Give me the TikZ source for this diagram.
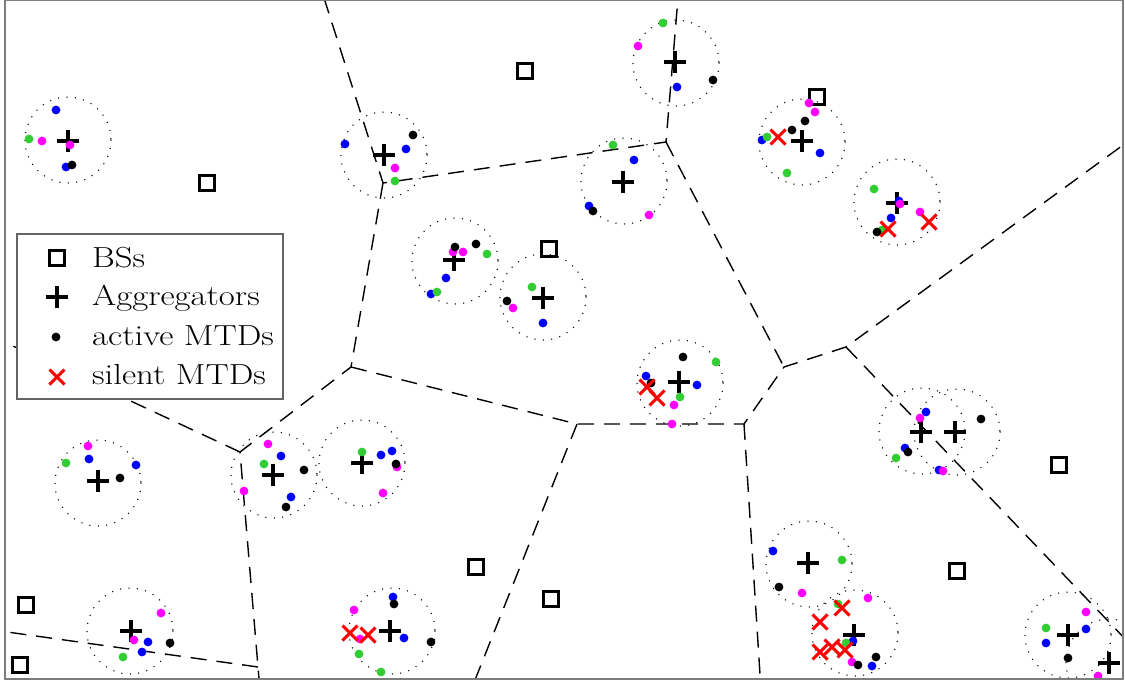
\documentclass[tikz,border=0pt]{standalone}
\usepackage{graphicx}
\usetikzlibrary{
	calc
}
\definecolor{mtdgreen}{RGB}{50,205,50}
\definecolor{mtdmagenta}{RGB}{255,0,255}
\definecolor{mtdblue}{RGB}{0,0,255}
\definecolor{framegray}{RGB}{125,125,125}
\tikzset{
	bsmark/.style={
		draw=black,
		line width=2.8pt,
		rectangle,
		minimum size=15.5pt,
		inner sep=0pt
	},
	aggmark/.style={
		draw=black,
		line width=3.2pt
	},
	silentmark/.style={
		draw=red,
		line width=3pt
	},
	voronoi/.style={
		black,
		line width=1.4pt,
		dash pattern=on 16pt off 10pt
	},
	aggrange/.style={
		black,
		line width=1.5pt,
		line cap=round,
		dash pattern=on 0pt off 8.4pt
	},
	legtext/.style={
		anchor=base west,
		inner sep=0pt,
		font=\fontsize{29}{31}\selectfont
	}
}
\newcommand\legstretch[1]{\scalebox{1.2}[1]{#1}}

\begin{document}
\begin{tikzpicture}[x=1pt,y=-1pt]
	\useasboundingbox (0,0) rectangle (1125,680);
	\begin{scope}
		\clip (5,0) rectangle (1123,679);
		%%%%%%%% VORONOI CELLS
		\coordinate (v1) at (383,183);
		\coordinate (v2) at (666,142);
		\coordinate (v3) at (351,367);
		\coordinate (v4) at (240,452);
		\coordinate (v5) at (577,424);
		\coordinate (v6) at (744,424);
		\coordinate (v7) at (784,367);
		\coordinate (v8) at (846,347);
		\coordinate (v9) at (258,667);
		\draw[voronoi] (324,-2) -- (v1) -- (v2) -- (678,-2);
		\draw[voronoi] (v1) -- (v3) -- (v4) -- (v9) -- (260,690);
		\draw[voronoi] (v3) -- (v5) -- (v6) -- (v7) -- (v8) -- (1130,140);
		\draw[voronoi] (v2) -- (v7);
		\draw[voronoi] (v4) -- (0,340);
		\draw[voronoi] (v9) -- (0,631);
		\draw[voronoi] (v5) -- (471,690);
		\draw[voronoi] (v6) -- (761,690);
		\draw[voronoi] (v8) -- (1130,644);
		%%%%%%%% AGGREGATOR RANGES
		\foreach \x/\y in {68/140,384/155,676/63,624/181,802/142,897/202,455/261,
			543/297,680/383,922/431,957/432,98/483,274/475,362/463,392/631,130/631,
			809/564,855/633,1068/635,1109/662}
			\draw[aggrange] (\x,\y) circle (43);
		%%%%%%%% BSs
		\foreach \x/\y in {207/183,525/71,817/97,549/249,1059/465,957/571,
			476/567,551/599,26/605,20/665}
			\node[bsmark] at (\x,\y) {};
		%%%%%%%% AGGREGATORS
		\foreach \x/\y in {68/141,384/155,675/62,623/182,802/141,897/203,454/260,
			543/298,679/382,921/432,955/432,98/481,273/475,362/463,390/631,131/631,
			808/563,854/635,1068/635,1109/663}
			\draw[aggmark] (\x,\y) +(-11,0) -- +(11,0) +(0,-11) -- +(0,11);
		%%%%%%%% ACTIVE MTDs
		\foreach \x/\y in {56/110,66/167,345/144,406/149,677/87,634/160,589/206,
			762/140,820/153,899/201,891/218,446/278,431/294,543/323,646/376,697/385,
			926/412,905/448,939/470,89/459,136/465,281/456,291/497,381/455,392/451,
			393/597,404/638,148/642,142/652,773/551,853/641,872/666,1086/629,1046/643}
			\fill[mtdblue] (\x,\y) circle (4.4);
		\foreach \x/\y in {29/139,395/181,663/23,613/145,767/137,787/173,874/189,
			882/230,487/254,437/292,532/287,716/362,680/397,896/458,66/463,264/464,
			362/452,359/654,381/672,123/657,842/560,838/604,846/643,1046/628}
			\fill[mtdgreen] (\x,\y) circle (4.4);
		\foreach \x/\y in {42/141,70/145,395/168,638/46,649/215,809/103,815/112,
			900/204,920/212,453/252,463/252,513/308,674/405,672/424,920/418,943/471,
			88/446,268/444,244/491,397/467,383/493,354/610,360/639,161/613,134/640,
			802/593,868/598,852/662,1086/612,1098/676}
			\fill[mtdmagenta] (\x,\y) circle (4.4);
		\foreach \x/\y in {72/165,413/135,713/80,593/211,805/121,792/130,877/232,
			455/247,476/244,507/301,683/357,651/383,981/419,908/452,120/478,304/470,
			286/507,396/464,394/604,431/642,170/643,779/587,858/665,876/657,1068/658}
			\fill[black] (\x,\y) circle (4.4);
		%%%%%%%% SILENT MTDs
		\foreach \x/\y in {778/137,929/222,888/229,647/387,657/398,350/633,368/635,
			842/608,820/622,832/647,820/652,845/650}
			\draw[silentmark] (\x,\y) +(-7.5,-7.5) -- +(7.5,7.5) +(-7.5,7.5) -- +(7.5,-7.5);
	\end{scope}
	\draw[framegray, line width=1.5pt] (5,0) rectangle (1123,679);
	%%%%%%%% LEGEND
	\draw[framegray!80!black, fill=white, line width=1.3pt] (17,234) rectangle (283,399);
	\node[bsmark] (kbs) at (57,258) {};
	\draw[aggmark] (57,297) +(-11,0) -- +(11,0) +(0,-11) -- +(0,11);
	\fill[black] (56,337) circle (4.4);
	\draw[silentmark] (57,377) +(-7.5,-7.5) -- +(7.5,7.5) +(-7.5,7.5) -- +(7.5,-7.5);
	\node[legtext] (lbs) at (92,267) {\legstretch{BSs}};
	\node[legtext] (lagg) at (92,305) {\legstretch{Aggregators}};
	\node[legtext] (lact) at (92,345) {\legstretch{active MTDs}};
	\node[legtext] (lsil) at (92,384) {\legstretch{silent MTDs}};
\end{tikzpicture}
\end{document}
